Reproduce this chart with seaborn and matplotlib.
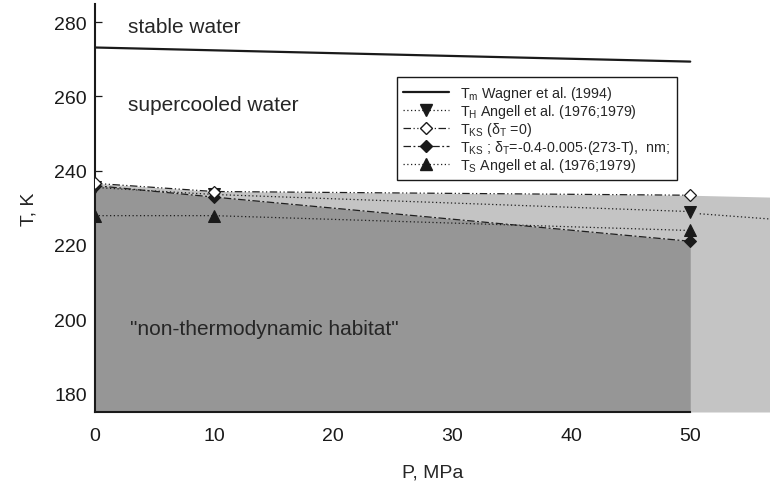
import numpy as np
import pandas as pd
import matplotlib
matplotlib.use("Agg")
import matplotlib.pyplot as plt
import seaborn as sns
from matplotlib.lines import Line2D

# ---- data ----
P = [0, 10, 50]
P_m = [0, 50]
T_m = [273.2, 269.4]
T_H = [235.5, 233.6, 229.0]
T_KS0 = [236.6, 234.4, 233.4]
T_KSd = [236.0, 232.9, 221.0]
T_S = [227.9, 227.9, 223.9]
P_ext = [50, 56.7]
T_KS0_ext = [233.4, 232.9]
P_H_ext = [50.8, 56.7]
T_H_ext = [228.4, 227.0]

x_ticks = [0, 10, 20, 30, 40, 50]
y_ticks = [180, 200, 220, 240, 260, 280]

labels = [
    r"T$_\mathregular{m}$ Wagner et al. (1994)",
    r"T$_\mathregular{H}$ Angell et al. (1976;1979)",
    r"T$_\mathregular{KS}$ (δ$_\mathregular{T}$ =0)",
    r"T$_\mathregular{KS}$ ; δ$_\mathregular{T}$=-0.4-0.005·(273-T),  nm;",
    r"T$_\mathregular{S}$ Angell et al. (1976;1979)",
]

sns.set_theme(style="ticks")
plt.rcParams["font.family"] = ["Liberation Sans", "DejaVu Sans"]
plt.rcParams["mathtext.fontset"] = "custom"
plt.rcParams["mathtext.rm"] = "Liberation Sans"

fig = plt.figure(figsize=(7.7, 4.85), dpi=100)
ax = fig.add_axes([95 / 770, 72 / 485, 675 / 770, 408.3 / 485])

ymin, ymax = 175, 285
xmax = 56.7

# shaded regions
light = "#c4c4c4"
dark = "#969696"
ax.fill_between(P + P_ext[1:], [ymin] * 4, T_KS0 + T_KS0_ext[1:], color=light, lw=0, zorder=1)
ax.fill_between(P, [ymin] * 3, T_KSd, color=dark, lw=0, zorder=1.5)

lc = "0.12"
sns.lineplot(x=P_m, y=T_m, ax=ax, color="k", lw=1.6, zorder=3)
sns.lineplot(x=P, y=T_H, ax=ax, color=lc, lw=0.9, linestyle=(0, (1, 2)),
             marker="v", markersize=9, markerfacecolor="k", markeredgecolor="k", zorder=4)
sns.lineplot(x=P_H_ext, y=T_H_ext, ax=ax, color=lc, lw=0.9, linestyle=(0, (1, 2)), zorder=4)
sns.lineplot(x=P, y=T_KS0, ax=ax, color=lc, lw=0.9, linestyle=(0, (6, 2, 1, 2, 1, 2)),
             marker="D", markersize=6.5, markerfacecolor="white", markeredgecolor="k",
             markeredgewidth=0.9, zorder=5)
sns.lineplot(x=P, y=T_KSd, ax=ax, color=lc, lw=0.9, linestyle=(0, (6, 2, 1.5, 2)),
             marker="D", markersize=6.5, markerfacecolor="k", markeredgecolor="k", zorder=4)
sns.lineplot(x=P, y=T_S, ax=ax, color=lc, lw=0.9, linestyle=(0, (1, 2)),
             marker="^", markersize=9, markerfacecolor="k", markeredgecolor="k", zorder=4)

ax.set_xlim(0, xmax)
ax.set_ylim(ymin, ymax)
ax.set_xticks(x_ticks)
ax.set_yticks(y_ticks)
ax.tick_params(direction="in", length=5, width=0.9, labelsize=14, colors="k")
ax.tick_params(axis="x", pad=11)
ax.tick_params(axis="y", pad=6)
for s in ["top", "right"]:
    ax.spines[s].set_visible(False)
for s in ["left", "bottom"]:
    ax.spines[s].set_color("k")
    ax.spines[s].set_linewidth(1.5)
ax.spines["bottom"].set_bounds(0, 50)
ax.set_facecolor("white")

ax.set_xlabel("P, MPa", fontsize=14, labelpad=14)
ax.set_ylabel("T, K", fontsize=14, labelpad=12)

ax.text(2.77, 278.8, "stable water", fontsize=15, va="center", ha="left", zorder=6)
ax.text(2.77, 257.8, "supercooled water", fontsize=15, va="center", ha="left", zorder=6)
ax.text(2.9, 197.4, "\"non-thermodynamic habitat\"", fontsize=15, va="center", ha="left", zorder=6)

# legend
handles = [
    Line2D([], [], color="k", lw=1.6),
    Line2D([], [], color=lc, lw=0.9, linestyle=(0, (1, 2)), marker="v", markersize=8,
           markerfacecolor="k", markeredgecolor="k"),
    Line2D([], [], color=lc, lw=0.9, linestyle=(0, (6, 2, 1, 2, 1, 2)), marker="D", markersize=6,
           markerfacecolor="white", markeredgecolor="k"),
    Line2D([], [], color=lc, lw=0.9, linestyle=(0, (6, 2, 1.5, 2)), marker="D", markersize=6,
           markerfacecolor="k", markeredgecolor="k"),
    Line2D([], [], color=lc, lw=0.9, linestyle=(0, (1, 2)), marker="^", markersize=8,
           markerfacecolor="k", markeredgecolor="k"),
]
leg = ax.legend(handles, labels, loc="upper left", bbox_to_anchor=(0.447, 0.82),
                fontsize=10.3, frameon=True, fancybox=False, framealpha=1,
                edgecolor="k", handlelength=3.2, handletextpad=0.8, labelspacing=0.0,
                borderpad=0.45, borderaxespad=0, numpoints=1)
leg.get_frame().set_linewidth(1.0)
leg.set_zorder(10)

fig.savefig("out.png", dpi=100)
